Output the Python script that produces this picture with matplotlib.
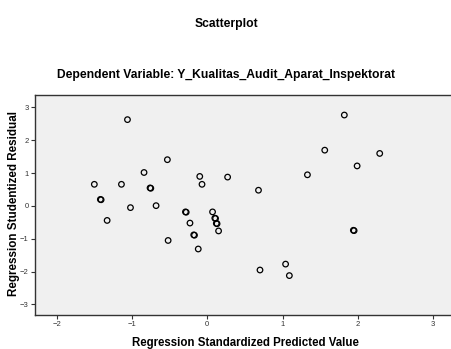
import matplotlib
matplotlib.use("Agg")
import matplotlib.pyplot as plt

plt.rcParams["font.family"] = ["Liberation Sans", "DejaVu Sans"]

# Regression standardized predicted value (x) vs studentized residual (y)
pred = [-1.06, 1.82, 1.56, 2.29, 1.99, -0.53, -0.84, 1.33, -0.10, 0.27,
        -1.50, -1.14, -0.07, -0.76, -0.75, 0.68, -1.42, -1.41, -1.02, -0.68,
        -1.33, -0.29, -0.28, 0.07, 0.10, 0.11, -0.23, 0.12, 0.13, 0.15,
        -0.18, -0.17, -0.52, -0.12, 1.94, 1.95, 1.04, 0.70, 1.09]
resid = [2.63, 2.77, 1.70, 1.60, 1.22, 1.41, 1.02, 0.95, 0.90, 0.88,
         0.66, 0.66, 0.66, 0.55, 0.54, 0.48, 0.20, 0.19, -0.05, 0.01,
         -0.44, -0.18, -0.19, -0.18, -0.37, -0.38, -0.52, -0.53, -0.54, -0.76,
         -0.88, -0.89, -1.05, -1.31, -0.74, -0.75, -1.77, -1.95, -2.12]

xticks = [-2, -1, 0, 1, 2, 3]
yticks = [-3, -2, -1, 0, 1, 2, 3]

W, H = 452, 349
fig = plt.figure(figsize=(W / 100, H / 100), dpi=100)
ax = fig.add_axes([35 / W, 1 - 315 / H, 1 - 35 / W, (315 - 95) / H])
ax.set_facecolor("#F0F0F0")

ax.scatter(pred, resid, s=16, facecolors="none", edgecolors="black",
           linewidths=0.9, zorder=3)

ax.set_xlim(-2.288, 3.25)
ax.set_ylim(-3.32, 3.38)
ax.set_xticks(xticks)
ax.set_yticks(yticks)
ax.tick_params(axis="both", direction="out", length=3, width=0.8,
               labelsize=5.5, colors="#333333", pad=1.5)

for side in ("left", "bottom", "top"):
    ax.spines[side].set_color("#333333")
    ax.spines[side].set_linewidth(1.0)
ax.spines["right"].set_visible(False)

fig.text(226 / W, 1 - 24 / H, "Scatterplot", ha="center", va="center",
         fontsize=8.7, fontweight="bold")
fig.text(226 / W, 1 - 75 / H,
         "Dependent Variable: Y_Kualitas_Audit_Aparat_Inspektorat",
         ha="center", va="center", fontsize=8.7, fontweight="bold")
fig.text(245 / W, 1 - 343 / H, "Regression Standardized Predicted Value",
         ha="center", va="center", fontsize=8.3, fontweight="bold")
fig.text(14 / W, 1 - 203 / H, "Regression Studentized Residual",
         ha="center", va="center", rotation=90, fontsize=8.4,
         fontweight="bold")

fig.savefig("out.png", dpi=100, facecolor="white")
